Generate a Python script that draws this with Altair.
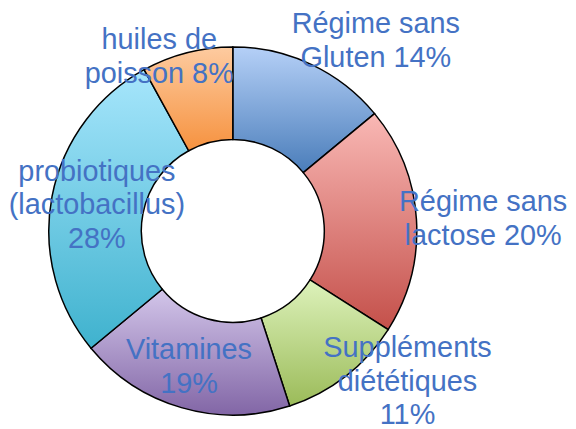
import altair as alt
import pandas as pd
import math

# ---- data ----
categories = ["Gluten", "Lactose", "Supplements", "Vitamines", "Probiotiques", "Huiles"]
values = [14, 20, 11, 19, 28, 8]
labels = [
    "Régime sans\nGluten 14%",
    "Régime sans\nlactose 20%",
    "Suppléments\ndiététiques\n11%",
    "Vitamines\n19%",
    "probiotiques\n(lactobacillus)\n28%",
    "huiles de\npoisson 8%",
]
top_colors = ["#B5D0F7", "#F9B8B5", "#DDF2BB", "#D3C6EA", "#A7E6FC", "#FDCBA0"]
bottom_colors = ["#4A7DBA", "#C4504A", "#9BBB59", "#8266A6", "#3FB2CE", "#F6923F"]

# label placement (mark styling): radius from centre and angular nudge (degrees)
label_radius = [239, 252, 232, 144, 139, 190]
label_nudge = [11.8, 0.8, -11.4, 1.6, -0.2, -8.5]
LINE_H = 34

df = pd.DataFrame({
    "cat": categories,
    "value": values,
    "label": labels,
    "order": list(range(len(categories))),
})

CX, CY = 226, 223
R_OUT, R_IN = 185, 92

theta_scale = alt.Scale(domain=[0, 100], range=[0, 2 * math.pi])

base = alt.Chart(df).transform_window(
    end="sum(value)", sort=[{"field": "order"}]
).transform_calculate(
    start="datum.end - datum.value",
    mid="(datum.end - datum.value/2)",
    lines="split(datum.label, '\\n')",
)

layers = []
for i, c in enumerate(categories):
    grad = alt.Gradient(
        gradient="linear",
        stops=[alt.GradientStop(color=top_colors[i], offset=0),
               alt.GradientStop(color=bottom_colors[i], offset=1)],
        x1=0, x2=0, y1=0, y2=1,
    )
    arc = base.transform_filter(alt.datum.cat == c).mark_arc(
        radius=R_OUT, radius2=R_IN, fill=grad, stroke="black", strokeWidth=1.5
    ).encode(
        theta=alt.Theta("start:Q", scale=theta_scale),
        theta2="end:Q",
        x=alt.value(CX), y=alt.value(CY),
    )
    layers.append(arc)

for i, c in enumerate(categories):
    n_lines = labels[i].count("\n") + 1
    txt = base.transform_filter(alt.datum.cat == c).mark_text(
        radius=label_radius[i],
        thetaOffset=math.radians(label_nudge[i]),
        dy=-(n_lines - 1) * LINE_H / 2,
        font="Liberation Sans", fontSize=29, lineHeight=LINE_H,
        color="#4472C4", align="center", baseline="middle",
    ).encode(
        theta=alt.Theta("mid:Q", scale=theta_scale, stack=False),
        text="lines:N",
        x=alt.value(CX), y=alt.value(CY),
    )
    layers.append(txt)

chart = alt.layer(*layers).properties(
    width=560, height=413, padding=0
).configure_view(stroke=None)

chart.save("out.html", embed_options={"renderer": "svg", "actions": False})
